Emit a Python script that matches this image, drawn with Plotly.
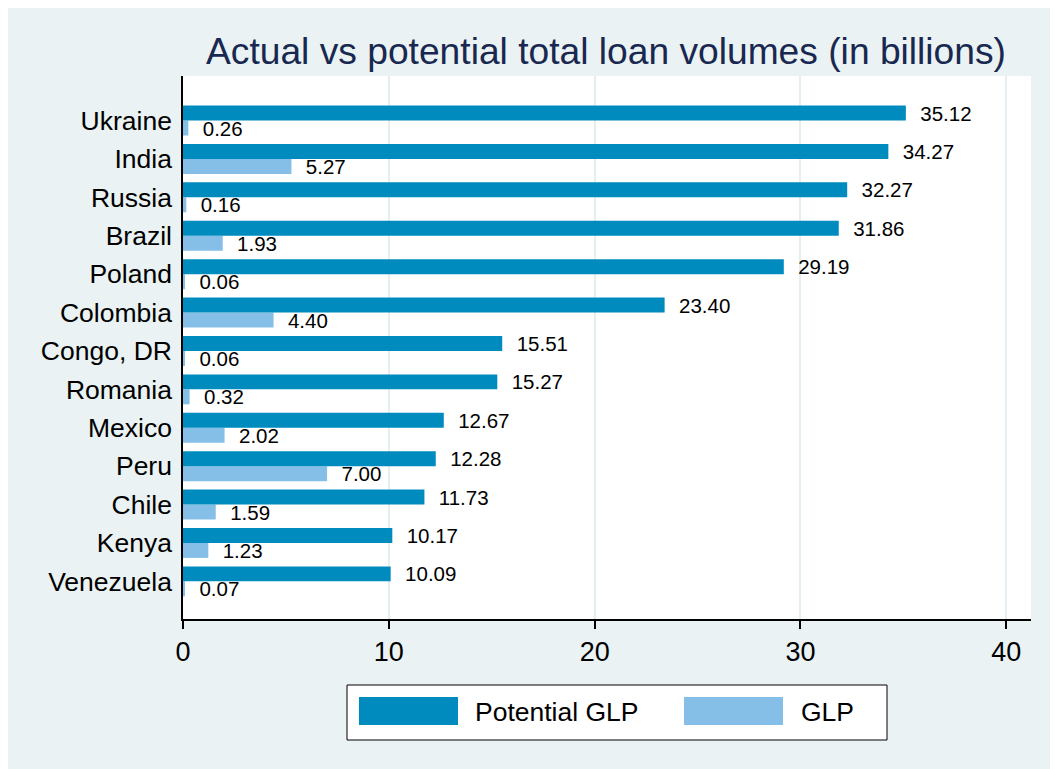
import plotly.graph_objects as go

countries = ["Ukraine", "India", "Russia", "Brazil", "Poland", "Colombia", "Congo, DR",
             "Romania", "Mexico", "Peru", "Chile", "Kenya", "Venezuela"]
potential_glp = [35.12, 34.27, 32.27, 31.86, 29.19, 23.40, 15.51, 15.27, 12.67, 12.28, 11.73, 10.17, 10.09]
glp = [0.26, 5.27, 0.16, 1.93, 0.06, 4.40, 0.06, 0.32, 2.02, 7.00, 1.59, 1.23, 0.07]
x_ticks = [0, 10, 20, 30, 40]

c_pot = "#008bbf"
c_glp = "#85bfe8"
bg = "#eaf2f3"
font_fam = "Liberation Sans, Arial, Helvetica, sans-serif"

fig = go.Figure()
fig.add_trace(go.Bar(
    y=countries, x=glp, orientation="h", name="GLP",
    marker=dict(color=c_glp, line=dict(width=0)),
    text=["  " + f"{v:.2f}" for v in glp], textposition="outside", constraintext="none",
    textfont=dict(size=20.5, color="black", family=font_fam),
    cliponaxis=False, showlegend=False,
))
fig.add_trace(go.Bar(
    y=countries, x=potential_glp, orientation="h", name="Potential GLP",
    marker=dict(color=c_pot, line=dict(width=0)),
    text=["  " + f"{v:.2f}" for v in potential_glp], textposition="outside", constraintext="none",
    textfont=dict(size=20.5, color="black", family=font_fam),
    cliponaxis=False, showlegend=False,
))

OFF = 8  # page body margin
W, H = 1050, 761
L = 183 - OFF
T = 76 - OFF
R = W - (1031 - OFF)
B = H - (619 - OFF)
pw, ph = W - L - R, H - T - B

def px(x):
    return (x - OFF - L) / pw

def py(y):
    return (H - B - (y - OFF)) / ph

shapes = [
    dict(type="rect", xref="paper", yref="paper", x0=px(347), x1=px(887), y0=py(740), y1=py(685),
         line=dict(color="black", width=1), fillcolor="white", layer="above"),
    dict(type="rect", xref="paper", yref="paper", x0=px(359), x1=px(458), y0=py(725), y1=py(697),
         line=dict(width=0), fillcolor=c_pot, layer="above"),
    dict(type="rect", xref="paper", yref="paper", x0=px(684), x1=px(783), y0=py(725), y1=py(697),
         line=dict(width=0), fillcolor=c_glp, layer="above"),
]
annotations = [
    dict(xref="paper", yref="paper", x=px(473), y=py(712), text="Potential GLP", showarrow=False,
         xanchor="left", yanchor="middle", font=dict(size=26.5, color="black", family=font_fam)),
    dict(xref="paper", yref="paper", x=px(799), y=py(712), text="GLP", showarrow=False,
         xanchor="left", yanchor="middle", font=dict(size=26.5, color="black", family=font_fam)),
]

fig.update_layout(
    width=W, height=H,
    paper_bgcolor=bg, plot_bgcolor="white",
    margin=dict(l=L, r=R, t=T, b=B, pad=0),
    barmode="group", bargap=0.22, bargroupgap=0,
    title=dict(text="Actual vs potential total loan volumes (in billions)",
               x=(606 - OFF) / W, xanchor="center", y=1 - (51 - OFF) / H, yanchor="middle",
               font=dict(size=37.2, color="#182850", family=font_fam)),
    xaxis=dict(range=[0, 41.2], tickvals=x_ticks, showgrid=True, gridcolor="#e5eef0", gridwidth=2,
               zeroline=False, showline=True, linecolor="black", linewidth=1.5,
               ticks="outside", ticklen=8, tickcolor="black", tickwidth=1.5,
               tickfont=dict(size=27, color="black", family=font_fam)),
    yaxis=dict(categoryorder="array", categoryarray=countries[::-1], range=[-0.98, 13.16],
               showgrid=False, zeroline=False, showline=True, linecolor="black", linewidth=1.5,
               ticks="", ticklen=0, ticklabelstandoff=4,
               tickfont=dict(size=26.5, color="black", family=font_fam)),
    shapes=shapes, annotations=annotations,
    showlegend=False,
)

fig.write_html("out.html")
